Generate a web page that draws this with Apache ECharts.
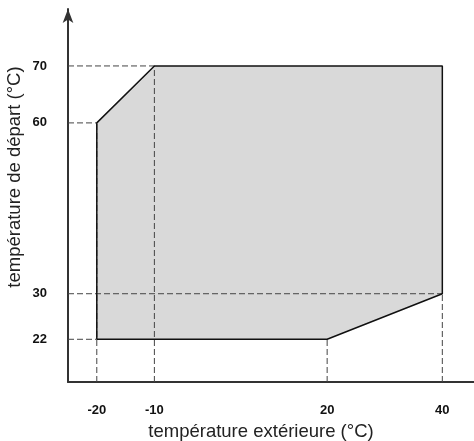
<!DOCTYPE html>
<html>
<head>
<meta charset="utf-8">
<script src="https://cdn.jsdelivr.net/npm/echarts@6/dist/echarts.min.js"></script>
<style>
  html, body { margin: 0; padding: 0; background: #fff; }
  #chart { width: 474px; height: 441px; }
</style>
</head>
<body>
<div id="chart"></div>
<script>
// domaine de fonctionnement (sommets du polygone)
var envelopeX = [-20, -20, -10, 40, 40, 20];
var envelopeY = [22, 60, 70, 70, 30, 22];

// graduations
var xTicks = [-20, -10, 20, 40];
var yTicks = [22, 30, 60, 70];

// lignes de repère pointillées
var vGuideX = [-20, -10, 20, 40];
var vGuideTop = [60, 70, 22, 30];
var hGuideY = [22, 30, 60, 70];
var hGuideEnd = [-20, 40, -20, -10];

var X_MIN = -25, X_MAX = 45.5, Y_MIN = 14.5, Y_MAX = 80;

var polygon = envelopeX.map(function (x, i) { return [x, envelopeY[i]]; });

var myChart = echarts.init(document.getElementById('chart'));

var series = [];

// remplissage gris
series.push({
  type: 'custom',
  z: 1,
  silent: true,
  renderItem: function (params, api) {
    if (params.dataIndex !== 0) return;
    var pts = polygon.map(function (p) { return api.coord(p); });
    return {
      type: 'polygon',
      shape: { points: pts },
      style: { fill: '#d9d9d9', stroke: 'none' }
    };
  },
  data: [[0, 0]]
});

var dashStyle = { color: '#444', width: 1, type: [6, 3] };

vGuideX.forEach(function (x, i) {
  series.push({
    type: 'line', z: 2, silent: true, showSymbol: false,
    lineStyle: dashStyle,
    data: [[x, Y_MIN], [x, vGuideTop[i]]]
  });
});
hGuideY.forEach(function (y, i) {
  series.push({
    type: 'line', z: 2, silent: true, showSymbol: false,
    lineStyle: dashStyle,
    data: [[X_MIN, y], [hGuideEnd[i], y]]
  });
});

// contour
series.push({
  type: 'line', z: 3, silent: true, showSymbol: false,
  lineStyle: { color: '#111', width: 1.5 },
  data: polygon.concat([polygon[0]])
});

var option = {
  animation: false,
  grid: { left: 68, right: 0, top: 9, bottom: 59, containLabel: false },
  xAxis: {
    type: 'value',
    min: X_MIN,
    max: X_MAX,
    splitLine: { show: false },
    axisTick: { show: false },
    axisLine: { show: true, onZero: false, lineStyle: { color: '#333', width: 2 } },
    axisLabel: {
      customValues: xTicks,
      margin: 22,
      color: '#111',
      fontSize: 13,
      fontWeight: 'bold',
      fontFamily: 'Liberation Sans'
    }
  },
  yAxis: {
    type: 'value',
    min: Y_MIN,
    max: Y_MAX,
    splitLine: { show: false },
    axisTick: { show: false },
    axisLine: {
      show: true, onZero: false,
      symbol: ['none', 'arrow'],
      symbolSize: [8, 14],
      lineStyle: { color: '#333', width: 2 }
    },
    axisLabel: {
      customValues: yTicks,
      margin: 21,
      color: '#111',
      fontSize: 13,
      fontWeight: 'bold',
      fontFamily: 'Liberation Sans'
    }
  },
  graphic: [
    {
      type: 'text',
      x: 261,
      y: 432,
      style: {
        text: 'température extérieure (°C)',
        x: 0, y: 0,
        align: 'center',
        verticalAlign: 'middle',
        fill: '#222',
        font: '18.5px "Liberation Sans"'
      }
    },
    {
      type: 'text',
      x: 15,
      y: 177,
      rotation: Math.PI / 2,
      style: {
        text: 'température de départ (°C)',
        x: 0, y: 0,
        align: 'center',
        verticalAlign: 'middle',
        fill: '#222',
        font: '18.5px "Liberation Sans"'
      }
    }
  ],
  series: series
};

option && myChart.setOption(option);
</script>
</body>
</html>
